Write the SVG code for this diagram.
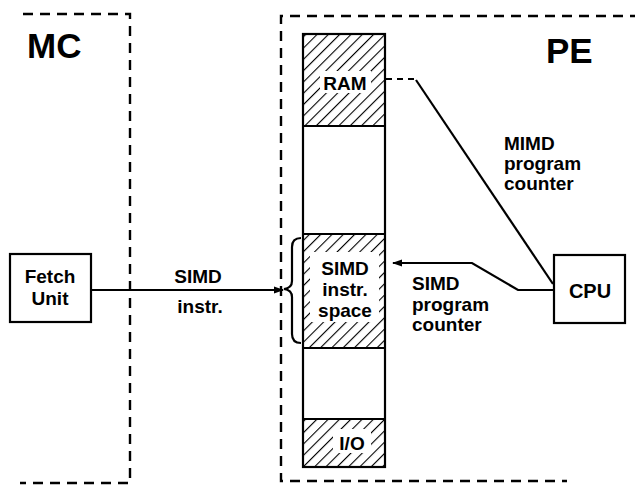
<svg xmlns="http://www.w3.org/2000/svg" width="635" height="486" viewBox="0 0 635 486">
  <style>
    .lbl { font-family: "Liberation Sans", Arial, Helvetica, sans-serif; font-weight: bold; fill: #000; }
    .big { font-size: 35px; }
    .txt { font-size: 19px; }
    .frame { fill: none; stroke: #000; stroke-width: 2.4; stroke-dasharray: 10 7; }
    .box { fill: #fff; stroke: #000; stroke-width: 2.2; }
    .wire { fill: none; stroke: #000; stroke-width: 2.2; }
    .clear { fill: #fff; stroke: none; }
  </style>
  <defs>
    <pattern id="hatch" patternUnits="userSpaceOnUse" width="8" height="8" patternTransform="rotate(45)">
      <rect width="8" height="8" fill="#fff"/>
      <line x1="0" y1="0" x2="0" y2="8" stroke="#000" stroke-width="2.2"/>
    </pattern>
    <marker id="arrow" viewBox="0 0 10 10" refX="9" refY="5" markerWidth="10" markerHeight="10" markerUnits="userSpaceOnUse" orient="auto">
      <path d="M0,1.5 L10,5 L0,8.5 Z" fill="#000"/>
    </marker>
  </defs>

  <!-- MC partition (open on the left) -->
  <g id="mc-frame">
    <path class="frame" d="M23,14 H130 V483 H20"/>
    <text class="lbl big" x="27" y="58">MC</text>
  </g>

  <!-- PE partition (runs off the right edge) -->
  <g id="pe-frame">
    <path class="frame" d="M640,16 H281 V481 H567"/>
    <text class="lbl big" x="546" y="63">PE</text>
  </g>

  <!-- Fetch unit -->
  <g id="fetch-unit">
    <rect class="box" x="10" y="254" width="81" height="68"/>
    <text class="lbl txt" x="50" y="283" text-anchor="middle">Fetch</text>
    <text class="lbl txt" x="50" y="305" text-anchor="middle">Unit</text>
  </g>

  <!-- PE memory column -->
  <g id="memory">
    <rect x="303" y="34" width="82" height="92" fill="url(#hatch)"/>
    <rect x="303" y="234" width="82" height="114" fill="url(#hatch)"/>
    <rect x="303" y="419" width="82" height="48" fill="url(#hatch)"/>
    <rect class="clear" x="320" y="71" width="51" height="22"/>
    <rect class="clear" x="310" y="252" width="69" height="70"/>
    <rect class="clear" x="333" y="429" width="38" height="24"/>
    <rect x="303" y="34" width="82" height="433" fill="none" stroke="#000" stroke-width="2.2"/>
    <line class="wire" x1="303" y1="126" x2="385" y2="126"/>
    <line class="wire" x1="303" y1="234" x2="385" y2="234"/>
    <line class="wire" x1="303" y1="348" x2="385" y2="348"/>
    <line class="wire" x1="303" y1="419" x2="385" y2="419"/>
    <text class="lbl txt" x="345" y="90" text-anchor="middle">RAM</text>
    <text class="lbl txt" x="345" y="275" text-anchor="middle">SIMD</text>
    <text class="lbl txt" x="345" y="296" text-anchor="middle">instr.</text>
    <text class="lbl txt" x="345" y="317" text-anchor="middle">space</text>
    <text class="lbl txt" x="352" y="450" text-anchor="middle">I/O</text>
    <!-- brace marking the SIMD instruction space -->
    <path class="wire" d="M301,238 Q292,238 292,247 L292,281 Q292,288 284,289 Q292,290 292,297 L292,334 Q292,343 301,343"/>
  </g>

  <!-- CPU -->
  <g id="cpu">
    <rect class="box" x="554" y="255" width="71" height="68"/>
    <text class="lbl" font-size="20" x="590" y="298" text-anchor="middle">CPU</text>
  </g>

  <!-- Connectors -->
  <g id="connectors">
    <line class="wire" x1="91" y1="290" x2="283" y2="290" marker-end="url(#arrow)"/>
    <path class="wire" d="M554,290 H518 L472,263 H393" marker-end="url(#arrow)"/>
    <line class="wire" x1="386" y1="79" x2="416" y2="79" stroke-dasharray="6 5"/>
    <line class="wire" x1="416" y1="80" x2="553" y2="284"/>
  </g>

  <!-- Connector labels -->
  <g id="labels">
    <text class="lbl txt" x="198" y="283" text-anchor="middle">SIMD</text>
    <text class="lbl txt" x="200" y="313" text-anchor="middle">instr.</text>
    <text class="lbl txt" x="504" y="150">MIMD</text>
    <text class="lbl txt" x="504" y="170">program</text>
    <text class="lbl txt" x="504" y="190">counter</text>
    <text class="lbl txt" x="412" y="290">SIMD</text>
    <text class="lbl txt" x="412" y="311">program</text>
    <text class="lbl txt" x="412" y="331">counter</text>
  </g>
</svg>
